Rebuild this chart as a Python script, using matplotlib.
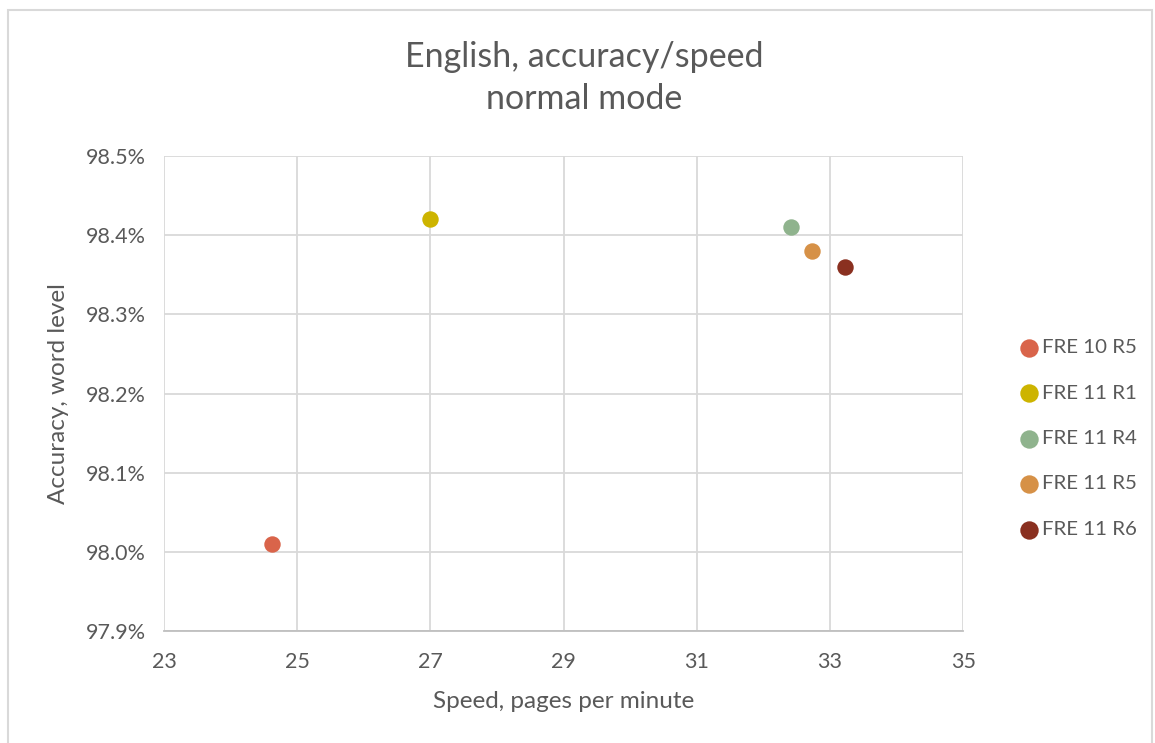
import matplotlib.pyplot as plt
from matplotlib.patches import Rectangle
from matplotlib.ticker import FuncFormatter

plt.rcParams['font.family'] = ['Lato', 'DejaVu Sans']

series = ['FRE 10 R5', 'FRE 11 R1', 'FRE 11 R4', 'FRE 11 R5', 'FRE 11 R6']
speed = [24.62, 27.0, 32.41, 32.73, 33.22]
accuracy = [98.01, 98.42, 98.41, 98.38, 98.36]
colors = ['#D9644A', '#CDB400', '#8FB38D', '#D69147', '#8A3020']

txt = '#595959'
fig = plt.figure(figsize=(11.55, 7.43), dpi=100)
ax = fig.add_axes([0.142, 0.1507, 0.692, 0.6393])

for name, x, y, c in zip(series, speed, accuracy, colors):
    ax.scatter([x], [y], s=140, color=c, label=name, zorder=3, linewidths=0)

ax.set_xlim(23, 35)
ax.set_ylim(97.9, 98.5)
ax.set_xticks([23, 25, 27, 29, 31, 33, 35])
ax.set_yticks([97.9, 98.0, 98.1, 98.2, 98.3, 98.4, 98.5])
ax.yaxis.set_major_formatter(FuncFormatter(lambda v, p: f'{v:.1f}%'))
ax.grid(True, color='#D9D9D9', linewidth=1.3)
ax.set_axisbelow(True)
for s in ['top', 'right', 'left']:
    ax.spines[s].set_visible(False)
ax.spines['bottom'].set_color('#BFBFBF')
ax.spines['bottom'].set_linewidth(1.3)
ax.tick_params(axis='y', length=0, labelsize=15.5, colors=txt, pad=13)
ax.tick_params(axis='x', length=0, labelsize=15.5, colors=txt, pad=15)

ax.set_xlabel('Speed, pages per minute', fontsize=17.5, color=txt, labelpad=14)
ax.set_ylabel('Accuracy, word level', fontsize=17.5, color=txt, labelpad=12)
fig.text(0.506, 0.895, 'English, accuracy/speed\nnormal mode', ha='center', va='center',
         fontsize=24.5, color=txt, linespacing=1.4)

leg = fig.legend(loc='center left', bbox_to_anchor=(0.866, 0.41), frameon=False,
                 fontsize=14.7, labelspacing=1.38, handletextpad=0.15, handlelength=1.0,
                 markerscale=1.12)
for t in leg.get_texts():
    t.set_color(txt)

fig.patches.append(Rectangle((0.007, -0.01), 0.99, 0.997, transform=fig.transFigure,
                             fill=False, edgecolor='#D9D9D9', linewidth=1.5))

fig.savefig('out.png', dpi=100)
